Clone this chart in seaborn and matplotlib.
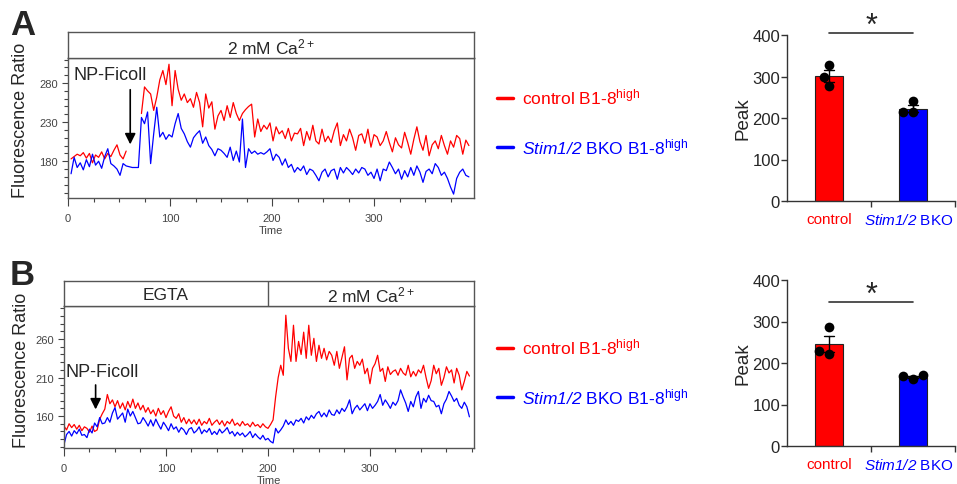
import numpy as np
import pandas as pd
import seaborn as sns
import matplotlib.pyplot as plt
from matplotlib.lines import Line2D
from matplotlib.ticker import MultipleLocator
from matplotlib.transforms import ScaledTranslation

sns.set_style('ticks')
plt.rcParams['font.family'] = ['Liberation Sans', 'DejaVu Sans']
plt.rcParams['mathtext.fontset'] = 'custom'
plt.rcParams['mathtext.rm'] = 'Liberation Sans'
plt.rcParams['mathtext.it'] = 'Liberation Sans:italic'
plt.rcParams['mathtext.sf'] = 'Liberation Sans:italic'  # italic incl. digits (Stim1/2)
plt.rcParams['mathtext.bf'] = 'Liberation Sans:bold'

# ---- traces ----
# panel A, 2 mM Ca2+ throughout (nan = no recording while NP-Ficoll is added)
time_a = np.arange(3, 394, 3)
ctrl_a = [183, 186, 189, 187, 191, 184, 190, 178, 188, 185,
          192, 183, 190, 186, 194, 201, 188, 183, 193, np.nan,
          np.nan, np.nan, np.nan, 241, 275, 270, 266, 245, 262, 284,
          296, 278, 304, 251, 296, 272, 258, 266, 255, 260,
          249, 268, 255, 224, 266, 248, 256, 221, 238, 245,
          232, 251, 236, 255, 241, 232, 241, 246, 250, 253,
          211, 234, 218, 226, 221, 229, 206, 224, 215, 219,
          209, 222, 206, 216, 215, 222, 200, 218, 207, 226,
          206, 202, 221, 205, 212, 204, 219, 229, 200, 214,
          206, 221, 210, 194, 213, 215, 203, 221, 198, 214,
          211, 200, 206, 218, 204, 192, 210, 201, 197, 217,
          204, 189, 208, 224, 205, 194, 213, 187, 201, 206,
          196, 213, 200, 189, 206, 198, 213, 209, 189, 207,
          200]
bko_a = [164, 185, 172, 178, 169, 182, 173, 189, 175, 180,
         171, 186, 196, 177, 174, 170, 162, 177, 174, 173,
         172, 172, 172, 236, 228, 243, 177, 215, 249, 211,
         217, 208, 214, 211, 228, 241, 222, 215, 205, 198,
         210, 215, 219, 203, 211, 200, 195, 187, 196, 194,
         190, 185, 198, 181, 193, 179, 234, 172, 196, 190,
         193, 189, 191, 189, 192, 196, 181, 189, 185, 175,
         183, 172, 176, 166, 172, 168, 174, 163, 170, 168,
         162, 155, 166, 170, 160, 168, 170, 157, 172, 165,
         172, 168, 163, 170, 165, 172, 170, 162, 166, 158,
         170, 155, 170, 168, 179, 172, 164, 170, 157, 168,
         160, 172, 162, 174, 166, 153, 167, 170, 164, 177,
         172, 162, 166, 158, 147, 138, 158, 166, 170, 162,
         160]

# panel B, EGTA then 2 mM Ca2+ from t=200
time_b = np.arange(0, 400, 2.5)
ctrl_b = [147, 142, 150, 145, 149, 143, 148, 141, 146, 144,
          139, 147, 140, 142, 156, 163, 169, 188, 176, 181,
          172, 180, 170, 177, 168, 179, 171, 182, 170, 177,
          168, 174, 165, 171, 163, 168, 160, 170, 162, 167,
          158, 166, 172, 160, 157, 163, 152, 158, 150, 156,
          150, 155, 149, 156, 148, 153, 150, 157, 148, 152,
          155, 149, 154, 147, 153, 150, 156, 148, 151, 147,
          153, 148, 150, 146, 152, 147, 149, 145, 150, 146,
          144, 149, 155, 185, 210, 226, 213, 291, 248, 231,
          278, 231, 257, 240, 269, 235, 278, 239, 261, 231,
          252, 235, 248, 233, 244, 239, 226, 244, 222, 236,
          250, 207, 235, 239, 222, 231, 226, 234, 215, 222,
          202, 222, 228, 239, 218, 222, 205, 224, 214, 218,
          220, 213, 222, 216, 213, 226, 211, 218, 212, 220,
          216, 226, 210, 196, 206, 226, 215, 222, 200, 210,
          224, 216, 220, 203, 222, 213, 194, 205, 218, 212]
bko_b = [123, 136, 140, 134, 141, 137, 143, 135, 136, 132,
         143, 138, 151, 146, 158, 150, 151, 158, 152, 164,
         171, 156, 160, 164, 152, 169, 160, 166, 158, 150,
         151, 158, 153, 147, 155, 147, 156, 149, 143, 152,
         147, 141, 150, 143, 146, 139, 145, 142, 136, 143,
         145, 138, 141, 146, 137, 142, 139, 144, 136, 140,
         136, 143, 138, 141, 145, 137, 140, 134, 139, 135,
         138, 133, 136, 140, 132, 137, 133, 130, 135, 129,
         131, 127, 125, 144, 138, 142, 147, 155, 149, 153,
         148, 155, 153, 157, 151, 159, 155, 161, 157, 163,
         166, 159, 164, 159, 168, 162, 161, 168, 163, 170,
         166, 172, 181, 163, 170, 174, 168, 172, 176, 167,
         176, 170, 174, 179, 188, 174, 181, 176, 170, 178,
         174, 180, 194, 185, 177, 166, 179, 172, 185, 192,
         170, 183, 178, 187, 180, 179, 172, 174, 163, 176,
         182, 192, 186, 179, 183, 174, 170, 178, 172, 159]

# ---- peak values (one dot per mouse) ----
groups = ['control', 'Stim1/2 BKO']
peak_a_ctrl = [328, 277, 298]
peak_a_bko = [240, 214, 214]
peak_b_ctrl = [286, 222, 230]
peak_b_bko = [168, 162, 170]

ctrl_name = r'control B1-8$^{\rm high}$'
bko_name = r'$\mathsf{Stim1/2}$ BKO B1-8$^{\rm high}$'
pal = {ctrl_name: '#ff0000', bko_name: '#0000ff'}
bar_pal = {'control': '#ff0000', 'Stim1/2 BKO': '#0000ff'}
grey = '#444444'


def make_trace_df(t, ctrl, bko):
    rows = []
    for name, vals in [(ctrl_name, ctrl), (bko_name, bko)]:
        vals = np.array(vals, dtype=float)
        seg = np.cumsum(np.isnan(vals))  # new line piece after a gap
        d = pd.DataFrame({'time': t, 'ratio': vals, 'genotype': name,
                          'segment': [name + str(s) for s in seg]})
        rows.append(d.dropna())
    return pd.concat(rows, ignore_index=True)


def trace_panel(ax, hdr, df, xmax, ylim, yticks, header, arrow):
    sns.lineplot(data=df, x='time', y='ratio', hue='genotype', units='segment',
                 estimator=None, palette=pal, lw=0.9, ax=ax, legend=False)
    ax.set_xlim(0, xmax)
    ax.set_ylim(*ylim)
    ax.set_xticks([0, 100, 200, 300])
    ax.xaxis.set_minor_locator(MultipleLocator(25))
    ax.set_yticks(yticks)
    ax.yaxis.set_minor_locator(MultipleLocator(10))
    ax.tick_params(which='major', width=0.8, color=grey, labelsize=8, labelcolor=grey)
    ax.tick_params(axis='x', which='major', length=6, pad=5)
    ax.tick_params(axis='y', which='major', length=4.5, pad=3)
    ax.tick_params(which='minor', length=3, width=0.8, color=grey)
    for s in ax.spines.values():
        s.set_color('#555555')
        s.set_linewidth(1)
    ax.set_xlabel('Time', fontsize=8, color=grey, labelpad=1)
    ax.set_ylabel('Fluorescence Ratio', fontsize=13)

    # stimulus header above the trace
    hdr.set_xlim(0, xmax)
    hdr.set_ylim(0, 1)
    hdr.set_xticks([])
    hdr.set_yticks([])
    for s in hdr.spines.values():
        s.set_color('#555555')
        s.set_linewidth(1)
    for (x0, x1, txt) in header:
        if x0 > 0:
            hdr.axvline(x0, color='#555555', lw=1)
        hdr.text((x0 + x1) / 2, 0.45, txt, ha='center', va='center', fontsize=12.5)

    tx, ty, ax_x, y0, y1 = arrow
    ax.annotate('', xy=(ax_x, y1), xytext=(ax_x, y0),
                arrowprops=dict(arrowstyle='-|>', color='black', lw=1.2, mutation_scale=16))
    ax.text(tx, ty, 'NP-Ficoll', fontsize=13, ha='left', va='center')


def peak_panel(ax, ctrl, bko, sig_y, star_y):
    df = pd.DataFrame({'group': ['control'] * len(ctrl) + ['Stim1/2 BKO'] * len(bko),
                       'peak': ctrl + bko})
    sns.barplot(data=df, x='group', y='peak', hue='group', palette=bar_pal, order=groups,
                saturation=1, errorbar='se', capsize=0.12, width=0.34, edgecolor='#222222',
                linewidth=0.8, err_kws={'color': 'black', 'linewidth': 1}, ax=ax, legend=False)
    sns.swarmplot(data=df, x='group', y='peak', order=groups, color='black', size=7, ax=ax)
    ax.set_xlim(-0.5, 1.5)
    ax.set_ylim(0, 400)
    ax.set_yticks([0, 100, 200, 300, 400])
    ax.set_xticks([0, 1])
    ax.set_xticklabels(['control', r'$\mathsf{Stim1/2}$ BKO'])
    ax.set_xticks([0.5, 1.5], minor=True)
    ax.tick_params(axis='x', which='major', length=0, labelsize=11, pad=8)
    labs = ax.get_xticklabels()
    for lab, c in zip(labs, ['#ff0000', '#0000ff']):
        lab.set_color(c)
    # keep the long label inside the figure edge
    labs[1].set_transform(labs[1].get_transform() + ScaledTranslation(-3 / 72, 0, fig.dpi_scale_trans))
    ax.tick_params(axis='x', which='minor', length=4, width=1, color='#333333')
    ax.tick_params(axis='y', length=4, width=1, color='#333333', labelsize=12, pad=1)
    for s in ['left', 'bottom']:
        ax.spines[s].set_color('#333333')
        ax.spines[s].set_linewidth(1)
    sns.despine(ax=ax)
    ax.set_xlabel('')
    ax.set_ylabel('Peak', fontsize=13.5)
    ax.yaxis.set_label_coords(-0.21, 0.5)
    ax.plot([0, 1], [sig_y, sig_y], color='#333333', lw=1.2, clip_on=False)
    ax.text(0.5, star_y, '*', ha='center', va='center', fontsize=22, clip_on=False)


fig = plt.figure(figsize=(9.57, 4.85), dpi=100)

ax_a = fig.add_axes([68 / 957, 1 - 199 / 485, 406 / 957, 140 / 485])
hdr_a = fig.add_axes([68 / 957, 1 - 59 / 485, 406 / 957, 26 / 485])
ax_b = fig.add_axes([64 / 957, 1 - 449 / 485, 410 / 957, 142 / 485])
hdr_b = fig.add_axes([64 / 957, 1 - 307 / 485, 410 / 957, 25 / 485])
bar_a = fig.add_axes([787 / 957, 1 - 202 / 485, 168 / 957, 166 / 485])
bar_b = fig.add_axes([787 / 957, 1 - 447 / 485, 168 / 957, 166 / 485])

trace_panel(ax_a, hdr_a, make_trace_df(time_a, ctrl_a, bko_a), 398, (133, 312), [180, 230, 280],
            [(0, 398, r'2 mM Ca$^{2+}$')], (5, 291, 61, 275, 198))
ax_a.yaxis.set_label_coords(-0.095, 0.56)
trace_panel(ax_b, hdr_b, make_trace_df(time_b, ctrl_b, bko_b), 402, (118.5, 303), [160, 210, 260],
            [(0, 200, 'EGTA'), (200, 402, r'2 mM Ca$^{2+}$')], (1, 218, 31, 204, 165))
ax_b.yaxis.set_label_coords(-0.082, 0.556)

peak_panel(bar_a, peak_a_ctrl, peak_a_bko, 405, 423)
peak_panel(bar_b, peak_b_ctrl, peak_b_bko, 346, 363)

# legends between the traces and the bar charts
handles = [Line2D([], [], color=pal[ctrl_name], lw=2.5), Line2D([], [], color=pal[bko_name], lw=2.5)]
for yc in [1 - 122.5 / 485, 1 - 372.5 / 485]:
    fig.legend(handles, [ctrl_name, bko_name], loc='center left', bbox_to_anchor=(497 / 957, yc),
               frameon=False, labelspacing=1.7, handlelength=0.9, handletextpad=0.55,
               borderpad=0, borderaxespad=0, fontsize=12.5, labelcolor='linecolor')

fig.text(10 / 957, 1 - 35 / 485, 'A', fontsize=25, fontweight='bold', va='baseline')
fig.text(10 / 957, 1 - 285 / 485, 'B', fontsize=25, fontweight='bold', va='baseline')

fig.savefig('out.png', dpi=100)
